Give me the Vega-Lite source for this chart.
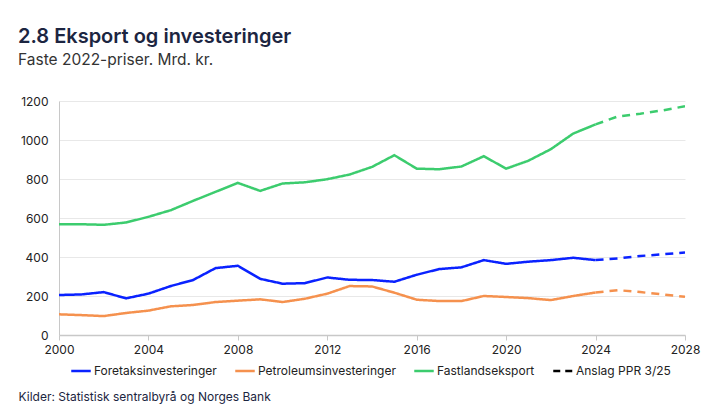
{
  "$schema": "https://vega.github.io/schema/vega-lite/v6.json",
  "width": 626,
  "height": 234,
  "autosize": {"type": "none"},
  "padding": {"left": 59, "top": 101, "right": 37, "bottom": 85},
  "background": "white",
  "config": {
    "font": "Inter",
    "view": {"stroke": null},
    "title": {"font": "Inter", "subtitleFont": "Inter"}
  },
  "title": {
    "text": "2.8 Eksport og investeringer",
    "subtitle": "Faste 2022-priser. Mrd. kr.",
    "anchor": "start",
    "frame": "group",
    "dx": -41,
    "offset": 27,
    "fontSize": 20,
    "fontWeight": 600,
    "color": "#1c2541",
    "subtitleFontSize": 15.5,
    "subtitleColor": "#333333",
    "subtitlePadding": 6
  },
  "data": {
    "values": [
      {"year": 2000, "Foretaksinvesteringer": 205, "Petroleumsinvesteringer": 106, "Fastlandseksport": 568, "type": "Historikk"},
      {"year": 2001, "Foretaksinvesteringer": 208, "Petroleumsinvesteringer": 102, "Fastlandseksport": 568, "type": "Historikk"},
      {"year": 2002, "Foretaksinvesteringer": 220, "Petroleumsinvesteringer": 97, "Fastlandseksport": 565, "type": "Historikk"},
      {"year": 2003, "Foretaksinvesteringer": 188, "Petroleumsinvesteringer": 113, "Fastlandseksport": 577, "type": "Historikk"},
      {"year": 2004, "Foretaksinvesteringer": 212, "Petroleumsinvesteringer": 125, "Fastlandseksport": 606, "type": "Historikk"},
      {"year": 2005, "Foretaksinvesteringer": 251, "Petroleumsinvesteringer": 147, "Fastlandseksport": 640, "type": "Historikk"},
      {"year": 2006, "Foretaksinvesteringer": 282, "Petroleumsinvesteringer": 154, "Fastlandseksport": 688, "type": "Historikk"},
      {"year": 2007, "Foretaksinvesteringer": 343, "Petroleumsinvesteringer": 169, "Fastlandseksport": 734, "type": "Historikk"},
      {"year": 2008, "Foretaksinvesteringer": 355, "Petroleumsinvesteringer": 176, "Fastlandseksport": 780, "type": "Historikk"},
      {"year": 2009, "Foretaksinvesteringer": 288, "Petroleumsinvesteringer": 183, "Fastlandseksport": 739, "type": "Historikk"},
      {"year": 2010, "Foretaksinvesteringer": 263, "Petroleumsinvesteringer": 169, "Fastlandseksport": 777, "type": "Historikk"},
      {"year": 2011, "Foretaksinvesteringer": 266, "Petroleumsinvesteringer": 186, "Fastlandseksport": 783, "type": "Historikk"},
      {"year": 2012, "Foretaksinvesteringer": 295, "Petroleumsinvesteringer": 212, "Fastlandseksport": 799, "type": "Historikk"},
      {"year": 2013, "Foretaksinvesteringer": 283, "Petroleumsinvesteringer": 251, "Fastlandseksport": 823, "type": "Historikk"},
      {"year": 2014, "Foretaksinvesteringer": 282, "Petroleumsinvesteringer": 249, "Fastlandseksport": 862, "type": "Historikk"},
      {"year": 2015, "Foretaksinvesteringer": 273, "Petroleumsinvesteringer": 217, "Fastlandseksport": 922, "type": "Historikk"},
      {"year": 2016, "Foretaksinvesteringer": 309, "Petroleumsinvesteringer": 181, "Fastlandseksport": 853, "type": "Historikk"},
      {"year": 2017, "Foretaksinvesteringer": 338, "Petroleumsinvesteringer": 174, "Fastlandseksport": 850, "type": "Historikk"},
      {"year": 2018, "Foretaksinvesteringer": 347, "Petroleumsinvesteringer": 174, "Fastlandseksport": 864, "type": "Historikk"},
      {"year": 2019, "Foretaksinvesteringer": 384, "Petroleumsinvesteringer": 200, "Fastlandseksport": 917, "type": "Historikk"},
      {"year": 2020, "Foretaksinvesteringer": 365, "Petroleumsinvesteringer": 195, "Fastlandseksport": 853, "type": "Historikk"},
      {"year": 2021, "Foretaksinvesteringer": 376, "Petroleumsinvesteringer": 189, "Fastlandseksport": 894, "type": "Historikk"},
      {"year": 2022, "Foretaksinvesteringer": 384, "Petroleumsinvesteringer": 179, "Fastlandseksport": 953, "type": "Historikk"},
      {"year": 2023, "Foretaksinvesteringer": 396, "Petroleumsinvesteringer": 200, "Fastlandseksport": 1033, "type": "Historikk"},
      {"year": 2024, "Foretaksinvesteringer": 384, "Petroleumsinvesteringer": 218, "Fastlandseksport": 1080, "type": "Historikk"},
      {"year": 2024, "Foretaksinvesteringer": 384, "Petroleumsinvesteringer": 218, "Fastlandseksport": 1080, "type": "Anslag"},
      {"year": 2025, "Foretaksinvesteringer": 393, "Petroleumsinvesteringer": 230, "Fastlandseksport": 1121, "type": "Anslag"},
      {"year": 2026, "Foretaksinvesteringer": 405, "Petroleumsinvesteringer": 220, "Fastlandseksport": 1135, "type": "Anslag"},
      {"year": 2027, "Foretaksinvesteringer": 414, "Petroleumsinvesteringer": 208, "Fastlandseksport": 1152, "type": "Anslag"},
      {"year": 2028, "Foretaksinvesteringer": 423, "Petroleumsinvesteringer": 196, "Fastlandseksport": 1173, "type": "Anslag"}
    ]
  },
  "transform": [
    {"fold": ["Foretaksinvesteringer", "Petroleumsinvesteringer", "Fastlandseksport"], "as": ["serie", "value"]}
  ],
  "mark": {"type": "line", "strokeWidth": 2.5, "clip": true},
  "encoding": {
    "x": {
      "field": "year",
      "type": "quantitative",
      "scale": {"domain": [2000, 2028], "nice": false, "zero": false},
      "axis": {
        "title": "Kilder: Statistisk sentralbyrå og Norges Bank",
        "titleAnchor": "start",
        "titleAlign": "left",
        "titleX": -41,
        "titleY": 65,
        "titleFont": "Inter",
        "titleFontSize": 12,
        "titleFontWeight": "normal",
        "titleColor": "#1c2541",
        "titleBaseline": "alphabetic",
        "values": [2000, 2004, 2008, 2012, 2016, 2020, 2024, 2028],
        "format": "d",
        "grid": false,
        "domainColor": "#c8c8c8",
        "domainWidth": 1.5,
        "tickColor": "#c8c8c8",
        "tickSize": 5,
        "labelFontSize": 12,
        "labelColor": "#222222",
        "labelPadding": 4,
        "labelFlush": false
      }
    },
    "y": {
      "field": "value",
      "type": "quantitative",
      "scale": {"domain": [0, 1200], "nice": false},
      "axis": {
        "title": null,
        "values": [0, 200, 400, 600, 800, 1000, 1200],
        "format": "d",
        "grid": true,
        "gridColor": "#e8e8e8",
        "gridWidth": 1,
        "domain": true,
        "domainColor": "#c8c8c8",
        "domainWidth": 1,
        "ticks": false,
        "labelFontSize": 12,
        "labelColor": "#222222",
        "labelPadding": 11
      }
    },
    "color": {
      "field": "serie",
      "type": "nominal",
      "scale": {
        "domain": ["Foretaksinvesteringer", "Petroleumsinvesteringer", "Fastlandseksport", "Anslag PPR 3/25"],
        "range": ["#0a22ff", "#f5914e", "#3ccc6e", "#000000"]
      },
      "legend": {
        "title": null,
        "orient": "none",
        "legendX": 11,
        "legendY": 259,
        "direction": "horizontal",
        "symbolType": "stroke",
        "symbolSize": 380,
        "symbolStrokeWidth": 2.5,
        "labelFontSize": 12,
        "labelColor": "#222222",
        "labelOffset": 2,
        "columnPadding": 13,
        "encode": {
          "symbols": {
            "update": {
              "strokeDash": {"signal": "datum.label === 'Anslag PPR 3/25' ? [7, 5] : [1, 0]"}
            }
          }
        }
      }
    },
    "strokeDash": {
      "field": "type",
      "type": "nominal",
      "scale": {"domain": ["Historikk", "Anslag"], "range": [[1, 0], [8, 6]]},
      "legend": null
    }
  }
}
